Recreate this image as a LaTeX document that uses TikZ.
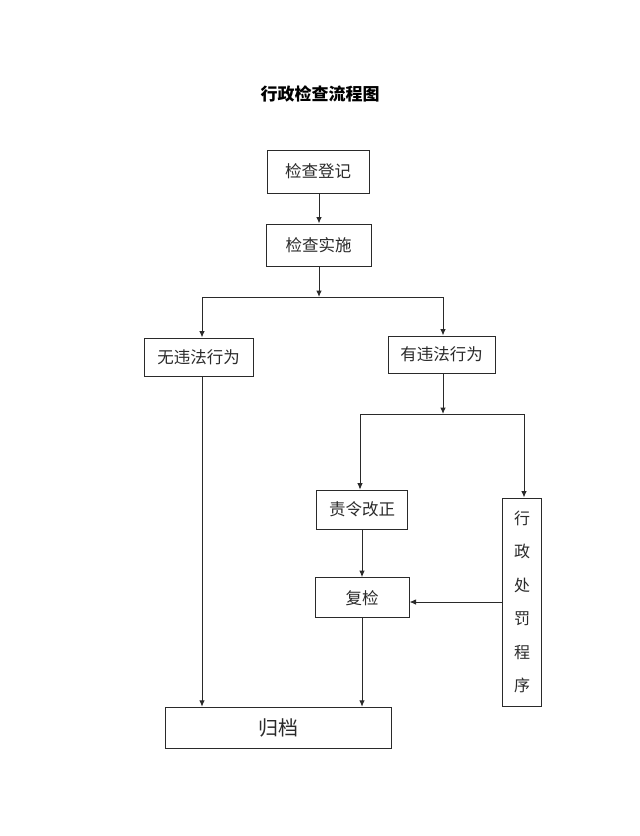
\documentclass[tikz,border=0pt]{standalone}
\usepackage{fontspec}
\newfontfamily\cjk{Noto Sans CJK SC}
\usetikzlibrary{arrows.meta,calc}
\definecolor{ln}{HTML}{2A2A2A}
\tikzset{
  box/.style={draw=ln,line width=1pt,rectangle,inner sep=0pt,font=\cjk\fontsize{16.5}{20}\selectfont,text=ln},
  arr/.style={draw=ln,line width=1pt,-{Latex[length=6.5pt,width=5.5pt]}},
  ln/.style={draw=ln,line width=1pt}
}
\begin{document}
\begin{tikzpicture}[x=1pt,y=-1pt]
\useasboundingbox[fill=white] (0,0) rectangle (640,836);
\node[font=\cjk\bfseries\fontsize{17}{20}\selectfont,text=black] (title) at (320,94) {行政检查流程图};
\node[box,minimum width=102pt,minimum height=43pt] (reg) at (318,171.5) {检查登记};
\node[box,minimum width=105pt,minimum height=42pt] (impl) at (318.5,245) {检查实施};
\coordinate (j1) at (319,297);
\node[box,minimum width=109pt,minimum height=38pt] (none) at (198.5,357) {无违法行为};
\node[box,minimum width=107pt,minimum height=37pt] (has) at (441.5,354.5) {有违法行为};
\coordinate (j2) at (443,414);
\node[box,minimum width=91pt,minimum height=39pt] (order) at (362,509.7) {责令改正};
\node[box,minimum width=94pt,minimum height=40pt] (recheck) at (362,597.7) {复检};
\node[box,minimum width=39.4pt,minimum height=208pt,align=center,font=\cjk\fontsize{16}{33.4}\selectfont] (pen) at (522,602) {行\\政\\处\\罚\\程\\序};
\node[box,minimum width=226pt,minimum height=41pt,font=\cjk\fontsize{20}{24}\selectfont] (arch) at (278,727.8) {归档};

\draw[arr] (reg.south -| j1) -- (impl.north -| j1);
\draw[arr] (impl.south -| j1) -- (j1);
\draw[arr] (j1) -| ([xshift=3.5pt]none.north);
\draw[arr] (j1) -| ([xshift=1.5pt]has.north);
\draw[arr] ([xshift=1.5pt]has.south) -- (j2);
\draw[arr] (j2) -| ([xshift=-2pt]order.north);
\draw[arr] (j2) -| ([xshift=2pt]pen.north);
\draw[arr] (order.south) -- (recheck.north);
\draw[arr] (pen.west) -- (pen.west -| recheck.east);
\draw[arr] (recheck.south) -- (recheck.south |- arch.north);
\draw[arr] ([xshift=3.5pt]none.south) -- ([xshift=3.5pt]none.south |- arch.north);
\end{tikzpicture}
\end{document}
